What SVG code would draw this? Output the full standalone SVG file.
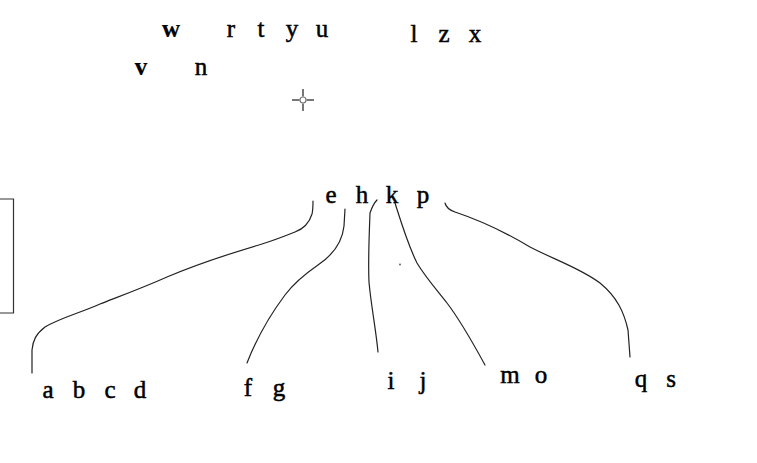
<svg xmlns="http://www.w3.org/2000/svg" width="757" height="463" viewBox="0 0 757 463">
<style>
text{font-family:"Liberation Serif","DejaVu Serif",serif;font-size:25px;fill:#000;stroke:#000;stroke-width:0.5;text-anchor:middle}
.b{font-weight:bold;stroke-width:0.2}
.c{fill:none;stroke:#222;stroke-width:1.2;stroke-linecap:round;stroke-linejoin:round}
</style>
<rect width="757" height="463" fill="#fff"/>
<g id="frame"><path d="M-2,199 H13.5 V313 H-2" fill="none" stroke="#333" stroke-width="1.2"/></g>
<g id="cursor" stroke="#777" stroke-width="2" fill="none">
<line x1="292" y1="100" x2="299.5" y2="100"/><line x1="306.5" y1="100" x2="314" y2="100"/>
<line x1="303" y1="89" x2="303" y2="96.5"/><line x1="303" y1="103.5" x2="303" y2="111"/>
<circle cx="303" cy="100" r="3" stroke-width="1.2" fill="#fff"/>
</g>
<g id="top-row">
<text x="171" y="37" class="b">w</text>
<text x="231" y="37">r</text><text x="261" y="37">t</text><text x="292" y="37">y</text><text x="322" y="37">u</text>
<text x="414" y="42">l</text><text x="444" y="42">z</text><text x="475" y="42">x</text>
</g>
<g id="second-row">
<text x="141" y="75" class="b">v</text><text x="201" y="75">n</text>
</g>
<g id="root">
<text x="331" y="203">e</text><text x="362" y="203">h</text><text x="392" y="203">k</text><text x="423" y="203">p</text>
</g>
<g id="leaf-abcd"><text x="48" y="398">a</text><text x="79" y="398">b</text><text x="110" y="398">c</text><text x="140" y="398">d</text></g>
<g id="leaf-fg"><text x="248" y="396">f</text><text x="279" y="396">g</text></g>
<g id="leaf-ij"><text x="391" y="389">i</text><text x="423" y="389">j</text></g>
<g id="leaf-mo"><text x="510" y="383">m</text><text x="541" y="383">o</text></g>
<g id="leaf-qs"><text x="641" y="387">q</text><text x="671" y="387">s</text></g>
<g id="connectors">
<path class="c" d="M313,201 C313,206 313,210 312,214 C309,224 303,229 295,232 C285,236 275,240 262,244 C235,252 200,263 167,277 C140,289 115,298 100,304 C80,313 60,318 45,327 C36,334 33,340 32,350 L32,373"/>
<path class="c" d="M345,209 L344,226 C342,245 330,257 318,265 C305,274 294,283 285,295 C270,315 258,335 247,363"/>
<path class="c" d="M377,200 C374,203 372,207 370,213 C369,240 368,262 369,282 C371,305 376,330 378,352"/>
<path class="c" d="M395,203 C402,225 408,245 417,263 C426,278 437,290 447,303 C460,320 473,343 485,365"/>
<path class="c" d="M445,203 C446,207 449,210 455,212 C470,217 495,226 530,247 C555,260 580,268 600,283 C617,297 624,312 628,330 L630,357"/>
<circle cx="400" cy="264.5" r="0.9" fill="#555"/>
</g>
</svg>
